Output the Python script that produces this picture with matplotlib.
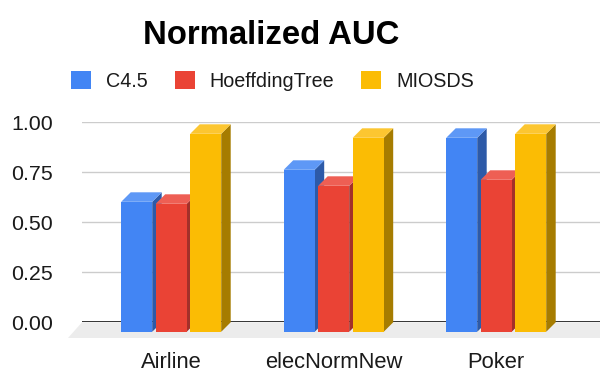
import matplotlib
matplotlib.use("Agg")
import matplotlib.pyplot as plt
from matplotlib.patches import Polygon, Patch

# Data
categories = ["Airline", "elecNormNew", "Poker"]
series = ["C4.5", "HoeffdingTree", "MIOSDS"]
c45 = [0.65, 0.81, 0.97]
hoeffding = [0.64, 0.73, 0.76]
miosds = [0.99, 0.97, 0.99]
yticks = [0.0, 0.25, 0.50, 0.75, 1.00]
ytick_labels = ["0.00", "0.25", "0.50", "0.75", "1.00"]

values = [c45, hoeffding, miosds]

# Face colours: front, top (lighter), side (darker)
front_colors = ["#4285F4", "#EA4335", "#FBBC04"]
top_colors = ["#5e98f6", "#ee5f54", "#fcc631"]
side_colors = ["#2d5aa8", "#a3302a", "#a67c00"]

plt.rcParams["font.family"] = ["Liberation Sans", "DejaVu Sans"]

W, H = 600, 373
fig = plt.figure(figsize=(W / 100, H / 100), dpi=100)
ax = fig.add_axes([82 / W, (H - 322.3) / H, 518 / W, 200 / H])

px = 162.5  # pixels per category unit
ax.set_xlim((82 - 171.2) / px, (600 - 171.2) / px)
ax.set_ylim(0, 1)

# 3D geometry (in data units)
pitch = 34.5 / px
bw = 31 / px
ddx = 9.5 / px
ddy = 9.5 / 200
floor_dx = 14 / px
floor_dy = 15.7 / 200

x0, x1 = ax.get_xlim()

# Floor
floor = Polygon([(x0, 0), (x1 + 1, 0), (x1 + 1 - floor_dx, -floor_dy), (x0 - floor_dx, -floor_dy)],
                closed=True, facecolor="#ececec", edgecolor="none", clip_on=False, zorder=1)
ax.add_patch(floor)

# Grid and baseline
ax.set_yticks(yticks)
ax.set_yticklabels(ytick_labels)
ax.yaxis.grid(True, color="#cccccc", lw=1.0, zorder=0)
ax.set_axisbelow(True)
ax.axhline(0, color="#333333", lw=1.4, zorder=2)

# Bars
for ci in range(len(categories)):
    for si in range(len(series)):
        v = values[si][ci]
        xl = ci + (si - 1) * pitch - bw / 2
        xr = xl + bw
        fr = Polygon([(xl, -ddy), (xr, -ddy), (xr, v - ddy), (xl, v - ddy)],
                     facecolor=front_colors[si], edgecolor="none", clip_on=False, zorder=3)
        tp = Polygon([(xl, v - ddy), (xr, v - ddy), (xr + ddx, v), (xl + ddx, v)],
                     facecolor=top_colors[si], edgecolor="none", clip_on=False, zorder=3)
        sd = Polygon([(xr, -ddy), (xr + ddx, 0), (xr + ddx, v), (xr, v - ddy)],
                     facecolor=side_colors[si], edgecolor="none", clip_on=False, zorder=3)
        ax.add_patch(sd)
        ax.add_patch(fr)
        ax.add_patch(tp)

ax.set_xticks(range(len(categories)))
ax.set_xticklabels(categories)
for s in ax.spines.values():
    s.set_visible(False)
ax.tick_params(axis="y", length=0, pad=20.9, labelsize=15.4, labelcolor="#1a1a1a")
ax.tick_params(axis="x", length=0, pad=(368 - 322.3) * 0.72, labelsize=15.8, labelcolor="#1a1a1a")
for lbl in ax.get_xticklabels():
    lbl.set_verticalalignment("baseline")

# Title
fig.text(270.8 / W, (H - 44) / H, "Normalized AUC", ha="center", va="baseline",
         fontsize=23.7, fontweight="bold", color="#000000")

# Legend
handles = [Patch(facecolor=c, edgecolor="none") for c in front_colors]
fs = 14.2
fpx = fs * 100 / 72
fig.legend(handles, series, loc="center left", bbox_to_anchor=(71 / W, (H - 81) / H),
           ncol=3, frameon=False, fontsize=fs, handlelength=20 / fpx, handleheight=20 / fpx,
           handletextpad=15 / fpx, columnspacing=27 / fpx, borderpad=0, borderaxespad=0,
           labelcolor="#1a1a1a")

fig.savefig("out.png", dpi=100)
